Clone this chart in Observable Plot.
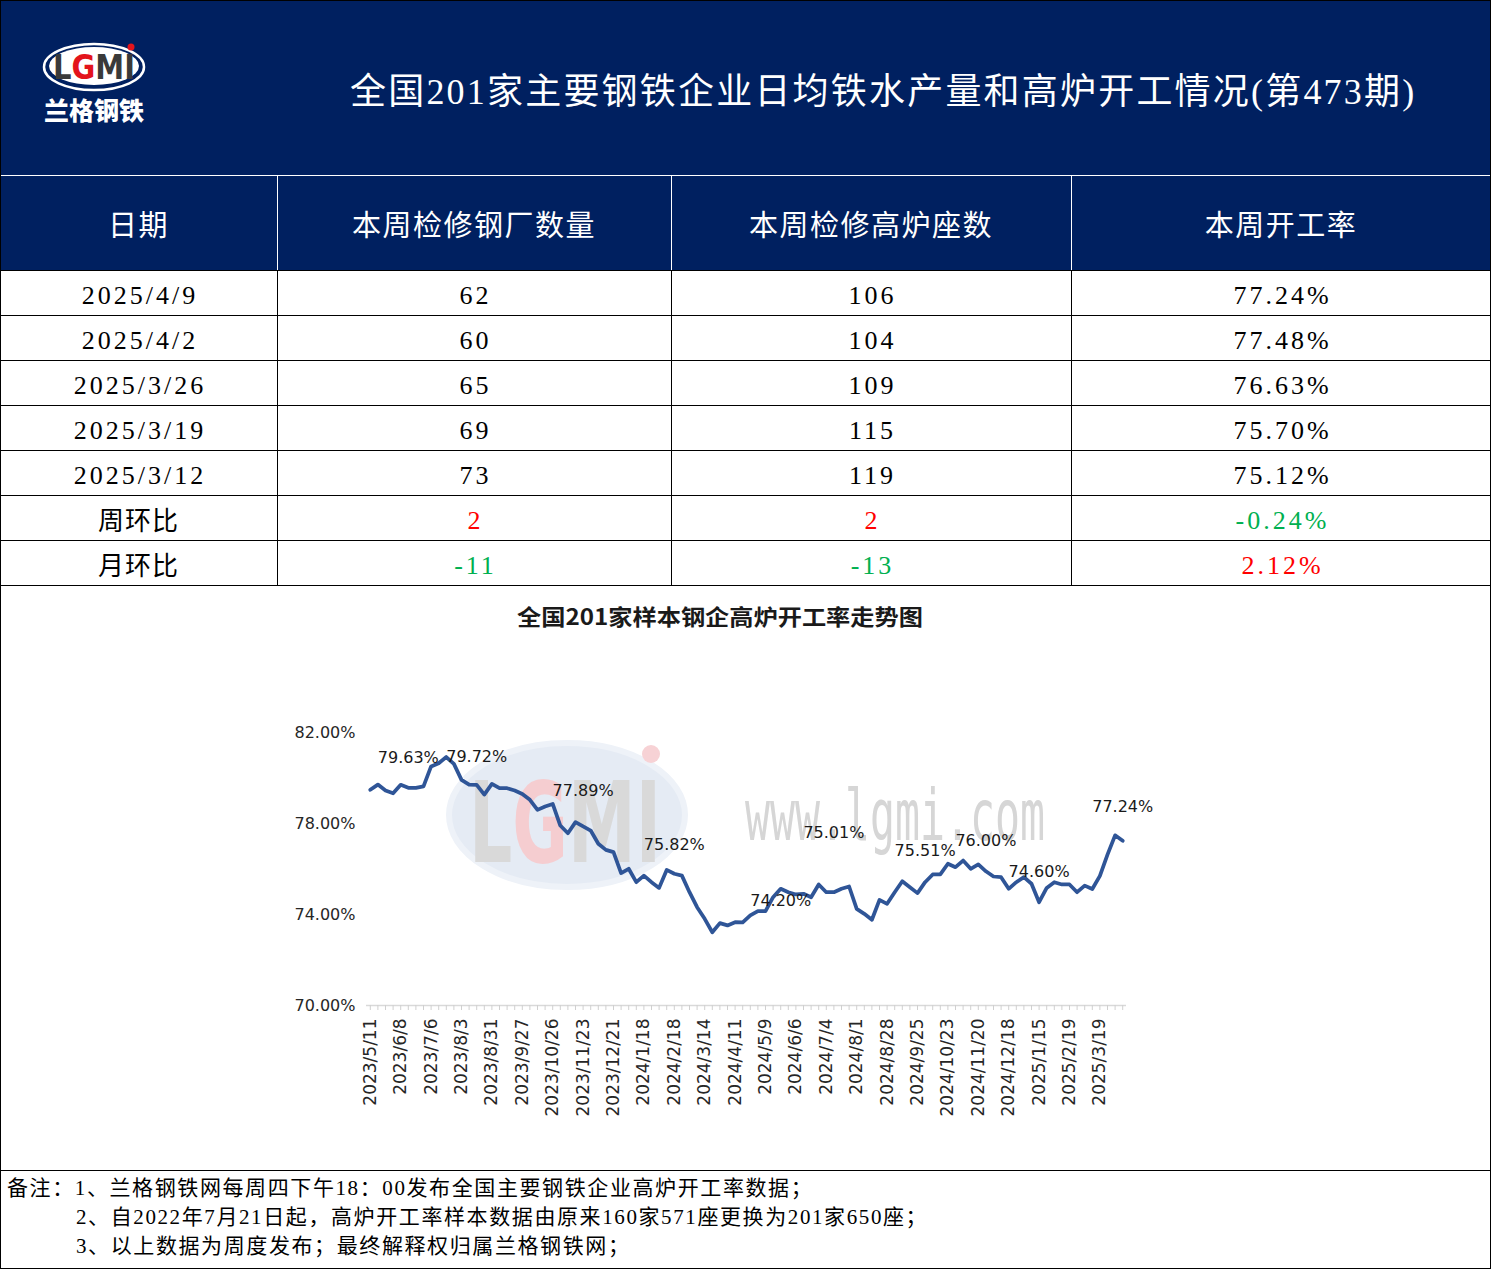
<!DOCTYPE html>
<html><head><meta charset="utf-8">
<script src="https://cdn.jsdelivr.net/npm/d3@7"></script>
<script src="https://cdn.jsdelivr.net/npm/@observablehq/plot@0.6"></script>
<style>
html,body{margin:0;padding:0;background:#fff;}
#page{position:relative;width:1492px;height:1270px;overflow:hidden;background:#fff;}
.abs{position:absolute;}
.navy{background:#002060;}
.hline{position:absolute;height:1px;background:#000;}
.vline{position:absolute;width:1px;background:#000;}
.cell{position:absolute;display:flex;align-items:center;justify-content:center;white-space:nowrap;box-sizing:border-box;}
.th{color:#fff;font-family:"Noto Sans CJK SC",sans-serif;font-size:29px;letter-spacing:1.5px;}
.td{color:#000;font-family:"Liberation Serif","Noto Sans CJK SC",serif;font-size:26px;letter-spacing:3px;padding-top:6px;padding-left:3px;}
.tdc{font-family:"Noto Sans CJK SC",sans-serif;font-size:26px;letter-spacing:1px;}
.note{position:absolute;font-family:"Liberation Serif","Noto Sans CJK SC",serif;font-size:21px;letter-spacing:1.6px;line-height:29px;white-space:nowrap;color:#000;}
</style></head>
<body><div id="page">
  <div class="abs navy" style="left:0;top:0;width:1491px;height:175px;"></div>
  <img id="logo" class="abs" style="left:0;top:0" width="200" height="175" alt="兰格钢铁 LGMI">
  <div id="mainTitle" class="abs" style="left:350px;top:68px;color:#fff;font-family:'Liberation Serif','Noto Sans CJK SC',serif;font-size:36px;letter-spacing:2.2px;white-space:nowrap;line-height:48px;"></div>
  <img id="wm" class="abs" style="left:0;top:0" width="1492" height="1270" alt="">
  <div id="chartTitle" class="abs" style="left:0;top:601px;width:1440px;text-align:center;font-family:'Noto Sans CJK SC',sans-serif;font-weight:bold;font-size:22px;line-height:28px;color:#1a1a1a;transform:scaleX(1.1);transform-origin:720px 0;"></div>
  <div id="chart" class="abs" style="left:0;top:586px;"></div>
  <div class="abs" style="left:0;top:0;width:1491px;height:1269px;box-sizing:border-box;border:1px solid #000;pointer-events:none;"></div>
</div>
<script>
// ---------- header & table data ----------
const mainTitle = "全国201家主要钢铁企业日均铁水产量和高炉开工情况(第473期)";
const columnHeaders = ["日期", "本周检修钢厂数量", "本周检修高炉座数", "本周开工率"];
const tableDates = ["2025/4/9", "2025/4/2", "2025/3/26", "2025/3/19", "2025/3/12"];
const millsUnderMaintenance = [62, 60, 65, 69, 73];
const furnacesUnderMaintenance = [106, 104, 109, 115, 119];
const operatingRates = ["77.24%", "77.48%", "76.63%", "75.70%", "75.12%"];
const changeRowNames = ["周环比", "月环比"];
const weekOnWeek = ["2", "2", "-0.24%"];
const monthOnMonth = ["-11", "-13", "2.12%"];
const notes = [
  "备注：1、兰格钢铁网每周四下午18：00发布全国主要钢铁企业高炉开工率数据；",
  "2、自2022年7月21日起，高炉开工率样本数据由原来160家571座更换为201家650座；",
  "3、以上数据为周度发布；最终解释权归属兰格钢铁网；"
];

// ---------- chart data ----------
const chartTitle = "全国201家样本钢企高炉开工率走势图";
const dates = [
  "2023/5/11","2023/5/18","2023/5/25","2023/6/1","2023/6/8","2023/6/15","2023/6/21","2023/6/29",
  "2023/7/6","2023/7/13","2023/7/20","2023/7/27","2023/8/3","2023/8/10","2023/8/17","2023/8/24",
  "2023/8/31","2023/9/7","2023/9/14","2023/9/21","2023/9/27","2023/10/7","2023/10/12","2023/10/19",
  "2023/10/26","2023/11/2","2023/11/9","2023/11/16","2023/11/23","2023/11/30","2023/12/7","2023/12/14",
  "2023/12/21","2023/12/28","2024/1/4","2024/1/11","2024/1/18","2024/1/25","2024/2/1","2024/2/7",
  "2024/2/18","2024/2/22","2024/2/29","2024/3/7","2024/3/14","2024/3/21","2024/3/28","2024/4/3",
  "2024/4/11","2024/4/18","2024/4/25","2024/4/30","2024/5/9","2024/5/16","2024/5/23","2024/5/30",
  "2024/6/6","2024/6/13","2024/6/20","2024/6/27","2024/7/4","2024/7/11","2024/7/18","2024/7/25",
  "2024/8/1","2024/8/8","2024/8/15","2024/8/22","2024/8/28","2024/9/4","2024/9/11","2024/9/18",
  "2024/9/25","2024/9/30","2024/10/9","2024/10/16","2024/10/23","2024/10/30","2024/11/6","2024/11/13",
  "2024/11/20","2024/11/27","2024/12/4","2024/12/11","2024/12/18","2024/12/25","2025/1/2","2025/1/8",
  "2025/1/15","2025/1/22","2025/2/5","2025/2/12","2025/2/19","2025/2/26","2025/3/5","2025/3/12",
  "2025/3/19","2025/3/26","2025/4/2","2025/4/9"
];
const rates = [
  79.48, 79.71, 79.45, 79.33, 79.70, 79.57, 79.57, 79.63,
  80.51, 80.65, 80.92, 80.62, 79.92, 79.71, 79.70, 79.27,
  79.74, 79.55, 79.55, 79.45, 79.30, 79.04, 78.60, 78.75,
  78.86, 77.91, 77.57, 78.06, 77.87, 77.69, 77.11, 76.84,
  76.74, 75.82, 76.01, 75.42, 75.71, 75.42, 75.17, 75.96,
  75.79, 75.71, 74.98, 74.32, 73.81, 73.22, 73.62, 73.52,
  73.66, 73.65, 73.96, 74.15, 74.15, 74.76, 75.13, 74.98,
  74.88, 74.91, 74.76, 75.32, 74.98, 74.98, 75.13, 75.23,
  74.25, 74.03, 73.77, 74.64, 74.47, 74.98, 75.46, 75.20,
  74.94, 75.42, 75.76, 75.76, 76.23, 76.08, 76.37, 76.01,
  76.20, 75.90, 75.67, 75.64, 75.13, 75.42, 75.64, 75.35,
  74.54, 75.17, 75.42, 75.32, 75.32, 74.98, 75.27, 75.12,
  75.70, 76.63, 77.48, 77.24
];
const tickLabels = [
  "2023/5/11","2023/6/8","2023/7/6","2023/8/3","2023/8/31","2023/9/27","2023/10/26","2023/11/23",
  "2023/12/21","2024/1/18","2024/2/18","2024/3/14","2024/4/11","2024/5/9","2024/6/6","2024/7/4",
  "2024/8/1","2024/8/28","2024/9/25","2024/10/23","2024/11/20","2024/12/18","2025/1/15","2025/2/19","2025/3/19"
];
const yTicks = [70, 74, 78, 82];
const labelDates = ["2023/6/15","2023/8/17","2023/11/23","2024/2/18","2024/5/23","2024/7/11","2024/9/30","2024/11/27","2025/1/15","2025/4/9"];
const labelTexts = ["79.63%","79.72%","77.89%","75.82%","74.20%","75.01%","75.51%","76.00%","74.60%","77.24%"];

// ---------- decorative images (logo, watermark) ----------
const svgUri = s => "data:image/svg+xml;charset=utf-8," + encodeURIComponent(s);
const logoSvg = `<svg xmlns="http://www.w3.org/2000/svg" width="200" height="175">
<ellipse cx="94" cy="67" rx="50" ry="23" fill="none" stroke="#fff" stroke-width="2.5"/>
<ellipse cx="94" cy="66" rx="45" ry="19" fill="#fff"/>
<text x="94" y="79" text-anchor="middle" font-family="DejaVu Sans" font-weight="bold" font-size="33" textLength="82" lengthAdjust="spacingAndGlyphs"><tspan fill="#3a3a3a">L</tspan><tspan fill="#e3141c">G</tspan><tspan fill="#3a3a3a">MI</tspan></text>
<circle cx="131" cy="47" r="3.5" fill="#e3141c"/>
<text x="94" y="120" text-anchor="middle" fill="#fff" font-family="Noto Sans CJK SC" font-weight="900" font-size="25" textLength="100" lengthAdjust="spacingAndGlyphs">兰格钢铁</text>
</svg>`;
const wmSvg = `<svg xmlns="http://www.w3.org/2000/svg" width="1492" height="1270">
<ellipse cx="567" cy="815" rx="118" ry="72" fill="#e5ebf4" stroke="#eef2f8" stroke-width="6"/>
<text x="565" y="862" text-anchor="middle" font-family="DejaVu Sans" font-weight="bold" font-size="112" textLength="192" lengthAdjust="spacingAndGlyphs"><tspan fill="#d9d9d9">L</tspan><tspan fill="#f5cdd0">G</tspan><tspan fill="#d9d9d9">MI</tspan></text>
<circle cx="651" cy="754" r="9" fill="#f7d2d5"/>
<text x="745" y="840" font-family="DejaVu Sans Mono" font-size="72" fill="#d6d6d6" textLength="300" lengthAdjust="spacingAndGlyphs">www.lgmi.com</text>
</svg>`;
document.getElementById("logo").src = svgUri(logoSvg);
document.getElementById("wm").src = svgUri(wmSvg);

// ---------- build header / table ----------
document.getElementById("mainTitle").textContent = mainTitle;
const page = document.getElementById("page");
const colX = [0, 277, 671, 1071, 1491];
function add(cls, style, text) {
  const el = document.createElement("div");
  el.className = cls;
  Object.assign(el.style, style);
  if (text != null) el.textContent = text;
  page.insertBefore(el, document.getElementById("wm"));
  return el;
}
add("abs navy", {left: "0px", top: "176px", width: "1491px", height: "94px"});
columnHeaders.forEach((h, c) => {
  add("cell th", {left: colX[c] + "px", top: "176px", width: (colX[c + 1] - colX[c]) + "px", height: "94px"}, h);
  if (c > 0) add("abs", {left: colX[c] + "px", top: "176px", width: "1px", height: "94px", background: "#fff"});
});
const rowTop = 270, rowH = 45;
const bodyRows = tableDates.map((d, i) => [d, String(millsUnderMaintenance[i]), String(furnacesUnderMaintenance[i]), operatingRates[i]]);
bodyRows.push([changeRowNames[0], ...weekOnWeek]);
bodyRows.push([changeRowNames[1], ...monthOnMonth]);
bodyRows.forEach((row, r) => {
  const top = rowTop + r * rowH;
  add("hline", {left: "0px", top: top + "px", width: "1491px"});
  row.forEach((v, c) => {
    const isChange = r >= tableDates.length && c > 0;
    const style = {left: colX[c] + "px", top: (top + 1) + "px", width: (colX[c + 1] - colX[c]) + "px", height: (rowH - 1) + "px"};
    if (isChange) style.color = v.startsWith("-") ? "#00B050" : "#FF0000";
    const isCjk = r >= tableDates.length && c === 0;
    add(isCjk ? "cell tdc" : "cell td", style, v);
  });
});
add("hline", {left: "0px", top: (rowTop + bodyRows.length * rowH) + "px", width: "1491px"});
colX.slice(1, 4).forEach(x => add("vline", {left: x + "px", top: rowTop + "px", height: (bodyRows.length * rowH) + "px"}));
add("hline", {left: "0px", top: "1170px", width: "1491px"});
notes.forEach((t, i) => add("note", {left: (i === 0 ? 7 : 76) + "px", top: (1174 + i * 29) + "px"}, t));

// ---------- chart ----------
document.getElementById("chartTitle").textContent = chartTitle;
const series = dates.map((d, i) => ({date: d, rate: rates[i]}));
const rateByDate = new Map(series.map(d => [d.date, d.rate]));
const labels = labelDates.map((d, i) => ({date: d, text: labelTexts[i]}));
const labelOffset = {"79.63%": -30, "79.72%": -28, "77.89%": -36, "75.82%": -29, "74.20%": 12,
                     "75.01%": -59, "75.51%": -31, "76.00%": -30, "74.60%": -30, "77.24%": -34};
const labelMarks = Array.from(d3.group(labels, d => labelOffset[d.text]), ([dy, rows]) =>
  Plot.text(rows, {x: "date", y: d => rateByDate.get(d.date), text: "text", dy, fontSize: 16,
                   fill: "#1a1a1a", fontFamily: "DejaVu Sans"}));

const chart = Plot.plot({
  width: 1490, height: 584,
  marginLeft: 366, marginRight: 364, marginTop: 146, marginBottom: 165,
  style: {background: "transparent", overflow: "visible", fontFamily: "DejaVu Sans", color: "#262626"},
  x: {type: "point", domain: dates, padding: 0.5, label: null},
  y: {domain: [70, 82], label: null},
  marks: [
    Plot.ruleY([70], {stroke: "#d9d9d9", strokeWidth: 1.5}),
    Plot.axisX({ticks: dates, tickSize: 5, tickFormat: () => null, stroke: "#d0d0d0", label: null}),
    Plot.axisX({ticks: tickLabels, tickSize: 0, tickPadding: 13, tickRotate: -90, fontSize: 17, fill: "#262626", label: null}),
    Plot.axisY({ticks: yTicks, tickSize: 0, tickPadding: 11, tickFormat: d => d.toFixed(2) + "%", fontSize: 16, fill: "#262626", label: null}),
    Plot.line(series, {x: "date", y: "rate", stroke: "#2F5597", strokeWidth: 3.75, strokeLinejoin: "round", strokeLinecap: "round"}),
    ...labelMarks
  ]
});
document.getElementById("chart").appendChild(chart);
</script>
</body></html>
